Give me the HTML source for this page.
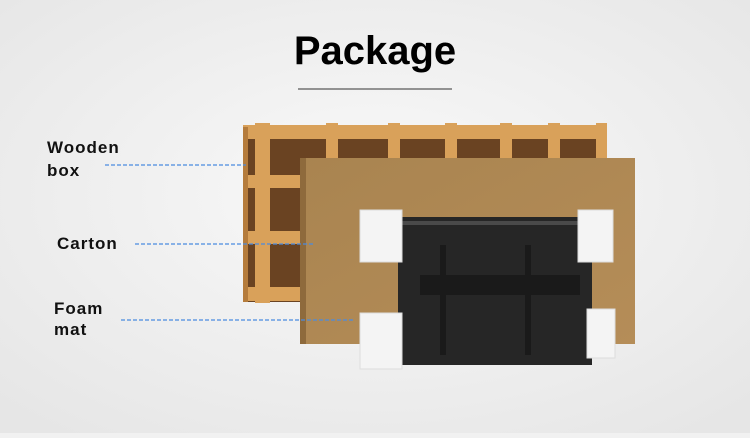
<!DOCTYPE html><html><head><style>body{margin:0;width:750px;height:433px;overflow:hidden;background:#f1f1f1}</style></head><body>
<svg width="750" height="433" viewBox="0 0 750 433" xmlns="http://www.w3.org/2000/svg">
<defs>
<radialGradient id="bg" cx="0.5" cy="0.45" r="0.7"><stop offset="0" stop-color="#f9f9f9"/><stop offset="1" stop-color="#e6e6e6"/></radialGradient>
<linearGradient id="ct" x1="0" y1="0" x2="1" y2="1"><stop offset="0" stop-color="#a98450"/><stop offset="1" stop-color="#b58d58"/></linearGradient>
</defs>
<rect width="750" height="433" fill="url(#bg)"/>
<text x="375" y="64" text-anchor="middle" font-family="Liberation Sans,sans-serif" font-weight="bold" font-size="40" fill="#000">Package</text>
<line x1="298" y1="89" x2="452" y2="89" stroke="#333" stroke-width="1"/>
<!-- wooden box -->
<rect x="243" y="127" width="364" height="175" fill="#6a4322"/>
<g fill="#d9a15a">
<rect x="243" y="125" width="364" height="14"/>
<rect x="243" y="175" width="70" height="13"/>
<rect x="243" y="231" width="70" height="13"/>
<rect x="243" y="287" width="70" height="14"/>
<rect x="255" y="123" width="15" height="180"/>
<rect x="326" y="123" width="12" height="40"/>
<rect x="388" y="123" width="12" height="40"/>
<rect x="445" y="123" width="12" height="40"/>
<rect x="500" y="123" width="12" height="40"/>
<rect x="548" y="123" width="12" height="40"/>
<rect x="596" y="123" width="11" height="40"/>
</g>
<rect x="243" y="127" width="5" height="175" fill="#b57c3c"/>
<!-- carton -->
<rect x="300" y="158" width="335" height="186" fill="url(#ct)"/>
<rect x="300" y="158" width="6" height="186" fill="#8e6a3c"/>
<!-- tv -->
<rect x="398" y="217" width="194" height="148" fill="#262626"/>
<rect x="398" y="221" width="194" height="4" fill="#4a4a4a"/>
<g fill="#1a1a1a"><rect x="420" y="275" width="160" height="20"/><rect x="440" y="245" width="6" height="110"/><rect x="525" y="245" width="6" height="110"/></g>
<!-- foam -->
<g fill="#f4f4f4" stroke="#ddd" stroke-width="1">
<rect x="360" y="210" width="42" height="52"/>
<rect x="578" y="210" width="35" height="52"/>
<rect x="360" y="313" width="42" height="56"/>
<rect x="587" y="309" width="28" height="49"/>
</g>
<!-- labels -->
<g font-family="Liberation Sans,sans-serif" font-weight="bold" font-size="17" fill="#111" letter-spacing="1">
<text x="47" y="153">Wooden</text><text x="47" y="176">box</text>
<text x="57" y="249">Carton</text>
<text x="54" y="314">Foam</text><text x="54" y="335">mat</text>
</g>
<g stroke="#4a8be0" stroke-width="1.2" stroke-dasharray="4,2">
<line x1="105" y1="165" x2="246" y2="165"/>
<line x1="135" y1="244" x2="315" y2="244"/>
<line x1="121" y1="320" x2="355" y2="320"/>
</g>
</svg>
</body></html>
